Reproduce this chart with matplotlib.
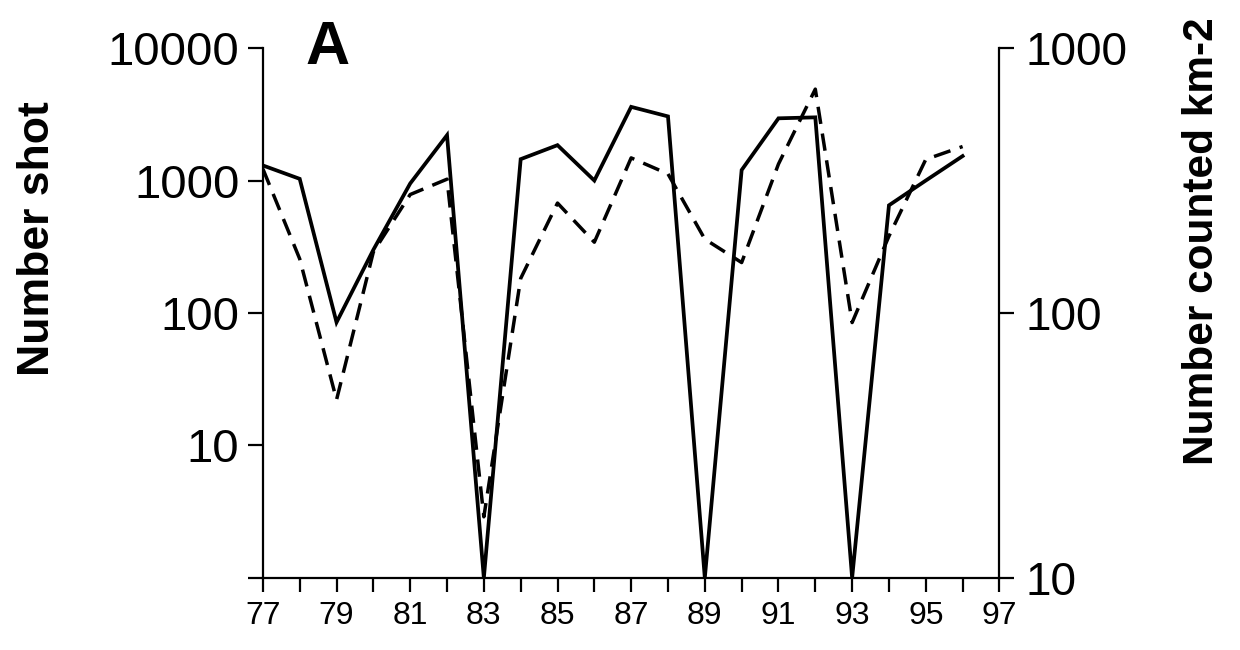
import matplotlib.pyplot as plt
import numpy as np

plt.rcParams['font.family'] = ['Liberation Sans', 'DejaVu Sans']

# years 1977-1996
years = np.arange(77, 97)
# number shot (left axis); years with none shot drawn at the axis floor (1)
shot = [1300, 1030, 85, 300, 950, 2200, 1, 1450, 1850, 1000,
        3600, 3050, 1, 1200, 2950, 3000, 1, 650, 1000, 1530]
# number counted per km2 (right axis)
counted = [350, 160, 47, 170, 280, 320, 17, 135, 260, 185,
           385, 335, 190, 155, 365, 700, 92, 195, 380, 425]

fig = plt.figure(figsize=(12.4, 6.5), dpi=100)
ax = fig.add_axes([0.212, 0.111, 0.594, 0.815])

ax.plot(years, shot, color='black', lw=2.7, solid_joinstyle='miter')
ax.set_yscale('log')
ax.set_ylim(1, 10000)
ax.set_xlim(77, 97)
ax.set_yticks([1, 10, 100, 1000, 10000])
ax.set_yticklabels(['', '10', '100', '1000', '10000'])
ax.minorticks_off()
ax.set_xticks(np.arange(77, 98))
ax.set_xticklabels([str(y) if (y - 77) % 2 == 0 else '' for y in range(77, 98)])

ax2 = ax.twinx()
ax2.plot(years, counted, color='black', lw=2.5, dashes=(5, 2.8))
ax2.set_yscale('log')
ax2.set_ylim(10, 1000)
ax2.set_yticks([10, 100, 1000])
ax2.set_yticklabels(['10', '100', '1000'])
ax2.minorticks_off()

for a in (ax, ax2):
    a.spines['top'].set_visible(False)
    for s in a.spines.values():
        s.set_linewidth(1.6)
ax2.spines['left'].set_visible(False)
ax2.spines['bottom'].set_visible(False)
ax.spines['right'].set_visible(False)

ax.tick_params(axis='y', which='major', length=11, width=1.6, labelsize=34, pad=6)
ax.tick_params(axis='x', which='major', length=10, width=1.6, labelsize=23, pad=7)
ax2.tick_params(axis='y', which='major', length=11, width=1.6, labelsize=33, pad=8)

ax.set_ylabel('Number shot', fontsize=32, fontweight='bold')
ax.yaxis.set_label_coords(-0.278, 0.64)
ax2.set_ylabel('Number counted km-2', fontsize=30.5, fontweight='bold')
ax2.yaxis.set_label_coords(1.248, 0.635)

ax.text(0.058, 1.0, 'A', transform=ax.transAxes, fontsize=44, fontweight='bold',
        ha='left', va='center')

fig.savefig('out.png', dpi=100)
